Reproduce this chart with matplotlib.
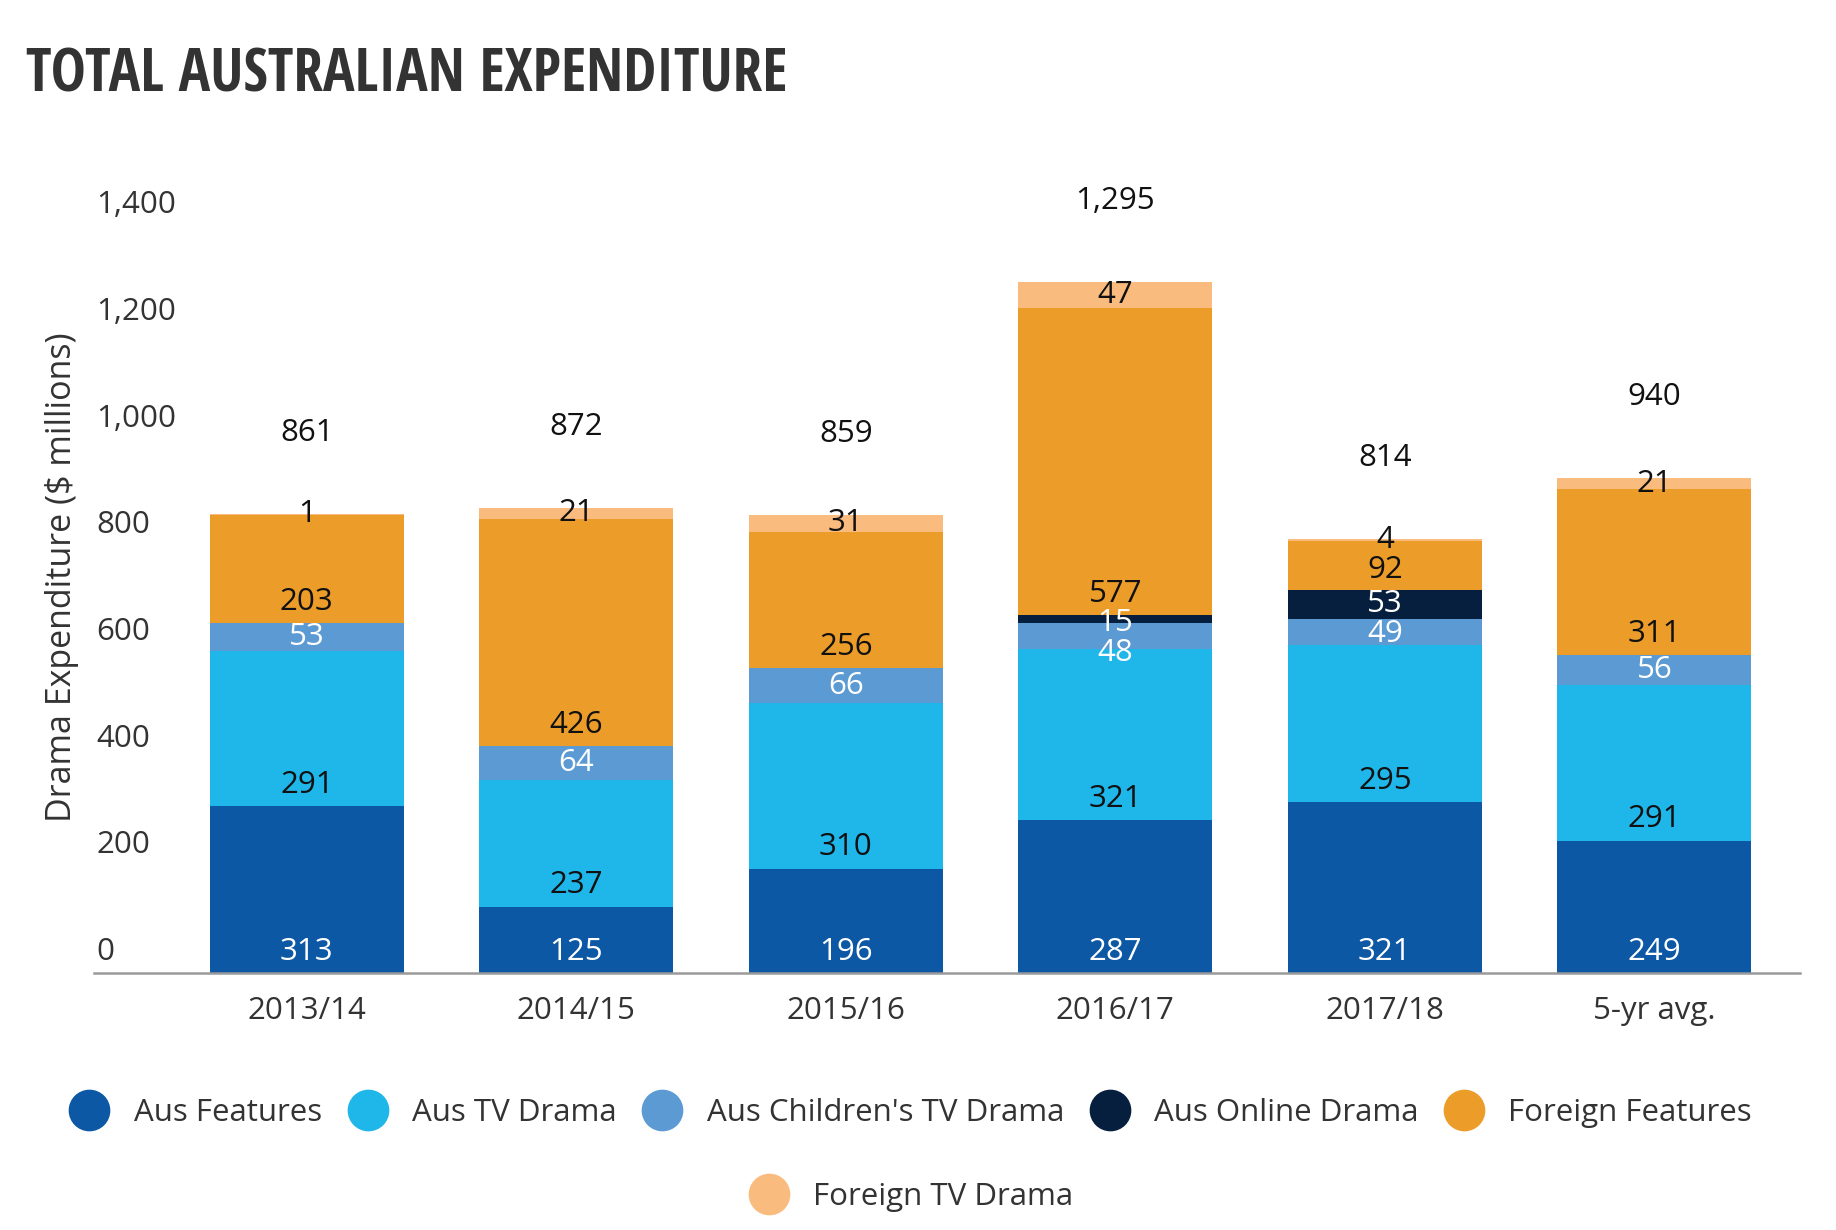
import os
import numpy as np
import matplotlib
matplotlib.use('Agg')
import matplotlib.pyplot as plt
from matplotlib.lines import Line2D
import matplotlib.transforms as mtransforms
from matplotlib import font_manager as fm

plt.rcParams['font.family'] = ['Open Sans', 'DejaVu Sans']

# data
years = ['2013/14', '2014/15', '2015/16', '2016/17', '2017/18', '5-yr avg.']
aus_features = [313, 125, 196, 287, 321, 249]
aus_tv_drama = [291, 237, 310, 321, 295, 291]
aus_children = [53, 64, 66, 48, 49, 56]
aus_online = [0, 0, 0, 15, 53, 0]
foreign_features = [203, 426, 256, 577, 92, 311]
foreign_tv = [1, 21, 31, 47, 4, 21]
totals = [861, 872, 859, 1295, 814, 940]

series = ['Aus Features', 'Aus TV Drama', "Aus Children's TV Drama",
          'Aus Online Drama', 'Foreign Features', 'Foreign TV Drama']
values = [aus_features, aus_tv_drama, aus_children, aus_online,
          foreign_features, foreign_tv]
colors = ['#0c58a5', '#1fb6ea', '#5b9ad3', '#061f3e', '#ec9c29', '#fabb7e']
text_colors = ['white', '#111111', 'white', 'white', '#111111', '#111111']

FS = 22.5


def condensed_bold():
    # look for a narrow bold face for the title
    prefs = ['Open Sans Condensed', 'Roboto Condensed', 'Liberation Sans Narrow',
             'DejaVu Sans']
    found = {}
    for f in fm.fontManager.ttflist:
        base = os.path.basename(f.fname)
        if 'Italic' in base or 'Oblique' in base:
            continue
        narrow = (str(f.stretch) in ('condensed', 'semi-condensed', 'extra-condensed')
                  or 'Condensed' in base or 'Narrow' in base or 'Condensed' in f.name)
        bold = 'Bold' in base and 'SemiBold' not in base and 'ExtraBold' not in base
        if narrow and bold:
            for p in prefs:
                if f.name.startswith(p):
                    found.setdefault(p, f.fname)
    for p in prefs:
        if p in found:
            return fm.FontProperties(fname=found[p])
    return fm.FontProperties(family='Open Sans', weight='bold')


fig = plt.figure(figsize=(18.36, 12.30), dpi=100)
ax = fig.add_axes([0.0510, 0.2086, 0.9292, 0.6507])

x = np.arange(len(years))
bottom = np.zeros(len(years))
labels = [[] for _ in years]  # per bar: (y, text, color)
for vals, c, tc in zip(values, colors, text_colors):
    vals = np.array(vals, dtype=float)
    ax.bar(x, vals, 0.72, bottom=bottom, color=c, linewidth=0)
    for i, v in enumerate(vals):
        if v > 0:
            labels[i].append([bottom[i] + min(v / 2, 40), str(int(v)), tc])
    bottom += vals

# segment labels, pushed down when they crowd each other
for i, labs in enumerate(labels):
    for k in range(len(labs) - 2, -1, -1):
        if labs[k][0] > labs[k + 1][0] - 55:
            labs[k][0] = labs[k + 1][0] - 55
    for yy, t, tc in labs:
        ax.text(x[i], yy, t, ha='center', va='center', fontsize=FS, color=tc)

for i, t in enumerate(totals):
    ax.text(x[i], bottom[i] + 152, f'{t:,}', ha='center', va='center',
            fontsize=FS, color='#111111')

ax.set_xlim(-0.791, 5.539)
ax.set_ylim(0, 1500)
for s in ['top', 'right', 'left']:
    ax.spines[s].set_visible(False)
ax.spines['bottom'].set_color('#9a9a9a')
ax.spines['bottom'].set_linewidth(1.8)
ax.set_xticks(x)
ax.set_xticklabels(years, fontsize=FS, color='#333333')
ax.tick_params(axis='x', length=0, pad=16)
ax.set_yticks([])

# y tick labels sit above their levels, inside the plot area
trans = mtransforms.blended_transform_factory(ax.transAxes, ax.transData)
for v in range(0, 1401, 200):
    ax.text(0.0015, v + 40, f'{v:,}', transform=trans, ha='left', va='center',
            fontsize=FS, color='#333333')

fig.text(0.0335, 0.531, 'Drama Expenditure ($ millions)', rotation=90,
         ha='center', va='center', fontsize=24.5, color='#333333')

tp = condensed_bold()
tp.set_size(40)
title = fig.text(0.014, 0.9257, 'TOTAL AUSTRALIAN EXPENDITURE', ha='left',
                 va='baseline', fontproperties=tp, color='#333333')
# fit the title to the width it has in the reference
r = fig.canvas.get_renderer()
w = title.get_window_extent(r).width
tp.set_size(min(48, 40 * 761 / w))
title.set_fontproperties(tp)

handles = [Line2D([], [], marker='o', linestyle='', markersize=29,
                  markerfacecolor=c, markeredgecolor=c) for c in colors]
leg_kw = dict(frameon=False, fontsize=FS, handlelength=1.3, handletextpad=0.77,
              columnspacing=0.81, labelcolor='#333333')
fig.legend(handles[:5], series[:5], loc='center', ncol=5,
           bbox_to_anchor=(0.496, 0.0952), **leg_kw)
fig.legend(handles[5:], series[5:], loc='center', ncol=1,
           bbox_to_anchor=(0.496, 0.0267), **leg_kw)

fig.savefig('out.png', dpi=100, facecolor='white')
